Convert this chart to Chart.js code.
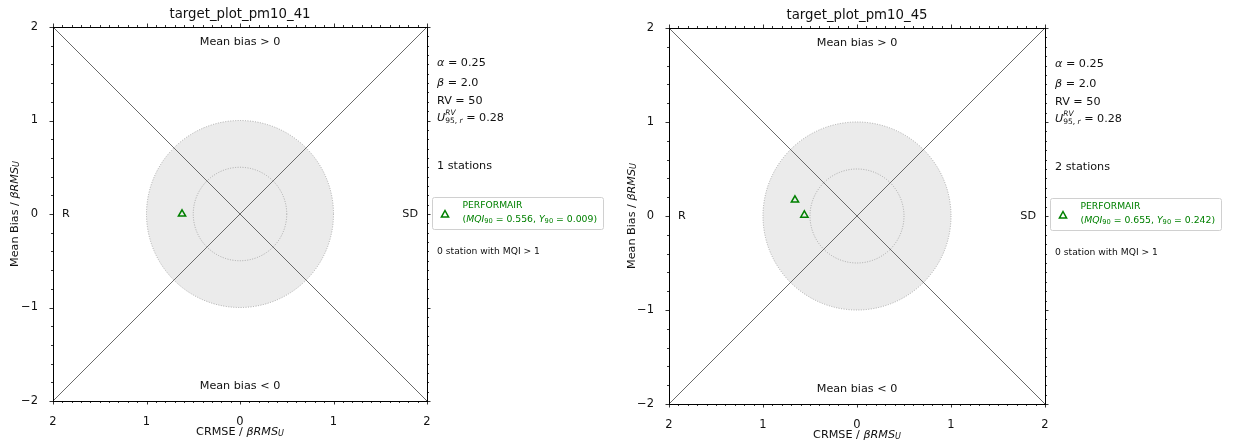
<!DOCTYPE html>
<html>
<head>
<meta charset="utf-8">
<script src="https://cdn.jsdelivr.net/npm/chart.js@4"></script>
<style>
  body { margin: 0; background: #fff; width: 1235px; height: 445px; overflow: hidden; position: relative; }
  .panel { position: absolute; top: 0; height: 445px; }
</style>
</head>
<body>
<div class="panel" style="left:0;width:617px"><canvas id="c41"></canvas></div>
<div class="panel" style="left:617px;width:618px"><canvas id="c45"></canvas></div>
<script>
// values
var titles = ["target_plot_pm10_41", "target_plot_pm10_45"];
var crmse41 = [-0.62];
var bias41 = [0.0];
var crmse45 = [-0.66, -0.56];
var bias45 = [0.17, 0.01];
var mqi90 = [0.556, 0.655];
var y90 = [0.009, 0.242];
var stationCounts = [1, 2];
var alpha = 0.25, beta = "2.0", rv = 50, u95 = 0.28;
var axisMin = -2, axisMax = 2;
var circleRadii = [1, 0.5];

var FONT = "'DejaVu Sans', sans-serif";
var GREEN = "#008000";
var INK = "#111";

function font(size, italic) {
  return (italic ? "italic " : "") + size + "px " + FONT;
}

// draw a line of mixed text: parts {t, s, i, dy, hold}
function rich(ctx, x, y, parts, align, color) {
  var w = 0;
  parts.forEach(function (p) {
    ctx.font = font(p.s, p.i);
    if (!p.hold) w += ctx.measureText(p.t).width;
  });
  var cx = align === "center" ? x - w / 2 : x;
  ctx.fillStyle = color || INK;
  ctx.textAlign = "left";
  ctx.textBaseline = "middle";
  parts.forEach(function (p) {
    ctx.font = font(p.s, p.i);
    ctx.fillText(p.t, cx, y + (p.dy || 0));
    if (!p.hold) cx += ctx.measureText(p.t).width;
  });
}

function text(ctx, s, x, y, size, align, color) {
  ctx.font = font(size, false);
  ctx.fillStyle = color || INK;
  ctx.textAlign = align;
  ctx.textBaseline = "middle";
  ctx.fillText(s, x, y);
}

function makePanel(id, idx, xs, ys, box) {
  var points = xs.map(function (v, i) { return { x: v, y: ys[i] }; });

  var decor = {
    id: "decor" + idx,
    beforeDatasetsDraw: function (chart) {
      var ctx = chart.ctx, sx = chart.scales.x, sy = chart.scales.y;
      var cx = sx.getPixelForValue(0), cy = sy.getPixelForValue(0);
      ctx.save();
      circleRadii.forEach(function (r, k) {
        var rx = sx.getPixelForValue(r) - cx;
        var ry = cy - sy.getPixelForValue(r);
        ctx.beginPath();
        ctx.ellipse(cx, cy, rx, ry, 0, 0, Math.PI * 2);
        if (k === 0) { ctx.fillStyle = "#ebebeb"; ctx.fill(); }
        ctx.setLineDash([1, 1.5]);
        ctx.strokeStyle = "#999";
        ctx.lineWidth = 0.8;
        ctx.stroke();
      });
      ctx.restore();
    },
    afterDraw: function (chart) {
      var ctx = chart.ctx, a = chart.chartArea, sx = chart.scales.x, sy = chart.scales.y;
      ctx.save();
      // frame
      ctx.strokeStyle = "#000";
      ctx.lineWidth = 1;
      ctx.strokeRect(Math.round(a.left) + 0.5, Math.round(a.top) + 0.5,
        Math.round(a.right - a.left), Math.round(a.bottom - a.top));
      // ticks
      ctx.lineWidth = 0.8;
      ctx.beginPath();
      for (var t = -20; t <= 20; t++) {
        var len = t % 10 === 0 ? 3.5 : 2;
        var px = Math.round(sx.getPixelForValue(t / 10)) + 0.5;
        ctx.moveTo(px, a.bottom); ctx.lineTo(px, a.bottom + len);
        ctx.moveTo(px, a.top); ctx.lineTo(px, a.top - len);
        var py = Math.round(sy.getPixelForValue(t / 10)) + 0.5;
        ctx.moveTo(a.right, py); ctx.lineTo(a.right + len, py);
        if (t % 2 === 0) {
          ctx.moveTo(a.left, py); ctx.lineTo(a.left - len, py);
        }
      }
      ctx.stroke();

      var mid = (a.left + a.right) / 2, vmid = (a.top + a.bottom) / 2;
      text(ctx, titles[idx], mid, 15 + box.dy, 13.3, "center");
      text(ctx, "Mean bias > 0", mid, a.top + 15, 11.2, "center");
      text(ctx, "Mean bias < 0", mid, a.bottom - 15, 11.2, "center");
      text(ctx, "R", a.left + 9, sy.getPixelForValue(0), 11.2, "left");
      text(ctx, "SD", a.right - 9, sy.getPixelForValue(0), 11.2, "right");

      // axis titles
      rich(ctx, mid, a.bottom + 31, [
        { t: "CRMSE / ", s: 11.2 }, { t: "\u03b2RMS", s: 11.2, i: true }, { t: "U", s: 8, i: true, dy: 2 }
      ], "center");
      ctx.save();
      ctx.translate(15, vmid);
      ctx.rotate(-Math.PI / 2);
      rich(ctx, 0, 0, [
        { t: "Mean Bias / ", s: 11.2 }, { t: "\u03b2RMS", s: 11.2, i: true }, { t: "U", s: 8, i: true, dy: 2 }
      ], "center");
      ctx.restore();

      // info text on the right
      var tx = a.right + 10, top = a.top;
      rich(ctx, tx, top + 36, [{ t: "\u03b1", s: 11.2, i: true }, { t: " = " + alpha, s: 11.2 }]);
      rich(ctx, tx, top + 56, [{ t: "\u03b2", s: 11.2, i: true }, { t: " = " + beta, s: 11.2 }]);
      text(ctx, "RV = " + rv, tx, top + 74, 11.2, "left");
      rich(ctx, tx, top + 91, [
        { t: "U", s: 11.2, i: true },
        { t: "RV", s: 7.5, i: true, dy: -4.5, hold: true },
        { t: "95, ", s: 7.5, dy: 3.5 }, { t: "r", s: 7.5, i: true, dy: 3.5 },
        { t: " = " + u95, s: 11.2 }
      ]);
      text(ctx, stationCounts[idx] + " stations", tx, top + 139, 11.2, "left");

      // legend box
      var bx = a.right + 5.5, by = top + 170.5, bw = 171, bh = 32;
      ctx.beginPath();
      ctx.roundRect(bx, by, bw, bh, 2);
      ctx.fillStyle = "#fff";
      ctx.fill();
      ctx.strokeStyle = "#d0d0d0";
      ctx.lineWidth = 1;
      ctx.stroke();
      var mx = bx + 12.5, my = by + 17;
      ctx.beginPath();
      ctx.moveTo(mx, my - 4); ctx.lineTo(mx + 3.6, my + 2.6); ctx.lineTo(mx - 3.6, my + 2.6); ctx.closePath();
      ctx.strokeStyle = GREEN; ctx.lineWidth = 1.5; ctx.stroke();
      text(ctx, "PERFORMAIR", bx + 30, by + 8.5, 9.2, "left", GREEN);
      rich(ctx, bx + 30, by + 22.5, [
        { t: "(", s: 9.3 }, { t: "MQI", s: 9.3, i: true }, { t: "90", s: 6.7, dy: 1.5 },
        { t: " = " + mqi90[idx].toFixed(3) + ", ", s: 9.3 },
        { t: "Y", s: 9.3, i: true }, { t: "90", s: 6.7, dy: 1.5 },
        { t: " = " + y90[idx].toFixed(3) + ")", s: 9.3 }
      ], "left", GREEN);

      text(ctx, "0 station with MQI > 1", tx, top + 225, 9.2, "left");
      ctx.restore();
    }
  };

  return new Chart(document.getElementById(id), {
    type: "scatter",
    data: {
      datasets: [
        {
          data: [{ x: axisMin, y: axisMin }, { x: axisMax, y: axisMax }],
          showLine: true, borderColor: "#6a6a6a", borderWidth: 1, pointRadius: 0
        },
        {
          data: [{ x: axisMin, y: axisMax }, { x: axisMax, y: axisMin }],
          showLine: true, borderColor: "#6a6a6a", borderWidth: 1, pointRadius: 0
        },
        {
          data: points,
          pointStyle: "triangle", pointRadius: 4.2, borderWidth: 1.5,
          borderColor: GREEN, backgroundColor: "rgba(0,0,0,0)"
        }
      ]
    },
    options: {
      responsive: true,
      maintainAspectRatio: false,
      animation: false,
      layout: { padding: { top: box.top, right: box.right, left: 0, bottom: 0 } },
      plugins: { legend: { display: false }, tooltip: { enabled: false } },
      scales: {
        x: {
          min: axisMin, max: axisMax,
          grid: { display: false }, border: { display: false },
          ticks: {
            stepSize: 1, padding: 6, color: INK, font: { family: FONT, size: 11.5 },
            callback: function (v) { return Math.abs(v); }
          },
          afterFit: function (s) { s.height = box.xh; }
        },
        y: {
          min: axisMin, max: axisMax,
          grid: { display: false }, border: { display: false },
          ticks: {
            stepSize: 1, padding: 7, color: INK, font: { family: FONT, size: 11.5 },
            callback: function (v) { return v < 0 ? "\u2212" + Math.abs(v) : v; }
          },
          afterFit: function (s) { s.width = box.yw; }
        }
      }
    },
    plugins: [decor]
  });
}

makePanel("c41", 0, crmse41, bias41, { top: 27, right: 190, xh: 44, yw: 53, dy: 0 });
makePanel("c45", 1, crmse45, bias45, { top: 28, right: 190, xh: 41, yw: 52, dy: 1 });
</script>
</body>
</html>
